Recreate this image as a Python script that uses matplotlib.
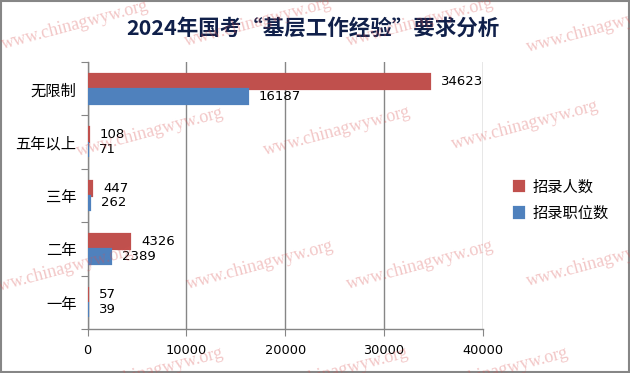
import numpy as np
import matplotlib
matplotlib.use("Agg")
import matplotlib.pyplot as plt
from matplotlib.patches import Rectangle

plt.rcParams['font.family'] = ['Noto Sans CJK SC', 'DejaVu Sans']

# data (bottom to top as drawn)
categories = ["一年", "二年", "三年", "五年以上", "无限制"]
recruits = [57, 4326, 447, 108, 34623]      # 招录人数
positions = [39, 2389, 262, 71, 16187]      # 招录职位数
series_names = ["招录人数", "招录职位数"]
x_ticks = [0, 10000, 20000, 30000, 40000]

red = "#C0504D"
blue = "#4F81BD"
grey = "#868686"

fig = plt.figure(figsize=(6.3, 3.73), dpi=100)
ax = fig.add_axes([87.5 / 630, 1 - 329 / 373, (483 - 87.5) / 630, (329 - 62) / 373])

y = np.arange(len(categories))
h = 0.28
# thin edge in the bar colour so that the tiny values still show as a sliver
b1 = ax.barh(y + h / 2, recruits, height=h, color=red, edgecolor=red, linewidth=1.6,
             label=series_names[0], zorder=3)
b2 = ax.barh(y - h / 2, positions, height=h, color=blue, edgecolor=blue, linewidth=1.6,
             label=series_names[1], zorder=3)

for bars, vals in ((b1, recruits), (b2, positions)):
    for bar, v in zip(bars, vals):
        ax.annotate(str(v), (bar.get_width(), bar.get_y() + bar.get_height() / 2),
                    xytext=(8, 0), textcoords="offset points", ha="left", va="center",
                    fontsize=9.5, family="DejaVu Sans", color="black", zorder=4)

ax.set_xlim(0, 40000)
ax.set_ylim(-0.5, len(categories) - 0.5)
ax.set_xticks(x_ticks)
ax.set_xticklabels([str(t) for t in x_ticks], fontsize=9.3, family="DejaVu Sans")
ax.set_yticks(np.arange(-0.5, len(categories), 1.0))
ax.set_yticklabels([])
ax.set_yticks(y, minor=True)
ax.set_yticklabels(categories, minor=True, fontsize=11)
ax.tick_params(axis="y", which="minor", length=0, pad=8)
ax.tick_params(axis="y", which="major", length=5, color=grey)
ax.tick_params(axis="x", length=5, color=grey, pad=6)

ax.grid(axis="x", color=grey, linewidth=1, zorder=0)
for s in ("top", "right"):
    ax.spines[s].set_visible(False)
for s in ("left", "bottom"):
    ax.spines[s].set_color(grey)
    ax.spines[s].set_linewidth(1)

fig.text(0.496, 1 - 28 / 373, "2024年国考“基层工作经验”要求分析", ha="center", va="center",
         fontsize=15.5, fontweight="bold", color="#10204a")

ax.legend(loc="center left", bbox_to_anchor=(500 / 630, 1 - 200 / 373),
          bbox_transform=fig.transFigure, frameon=False, fontsize=11,
          handlelength=0.7, handleheight=0.7, handletextpad=0.5, labelspacing=0.6)

# watermark
marks = [(75, 25), (258, 22), (420, 22), (600, 28),
         (150, 132), (337, 131), (525, 125),
         (60, 270), (260, 265), (420, 265), (600, 262),
         (150, 372), (335, 372), (495, 372)]
for mx, my in marks:
    fig.text(mx / 630, 1 - my / 373, "www.chinagwyw.org", ha="center", va="center",
             rotation=15, fontsize=13, family="Liberation Serif",
             color="#d85050", alpha=0.32, zorder=10)

fig.add_artist(Rectangle((0.001, 0.002), 0.997, 0.995, transform=fig.transFigure,
                         fill=False, edgecolor=grey, linewidth=1.5))

fig.savefig("out.png", dpi=100)
